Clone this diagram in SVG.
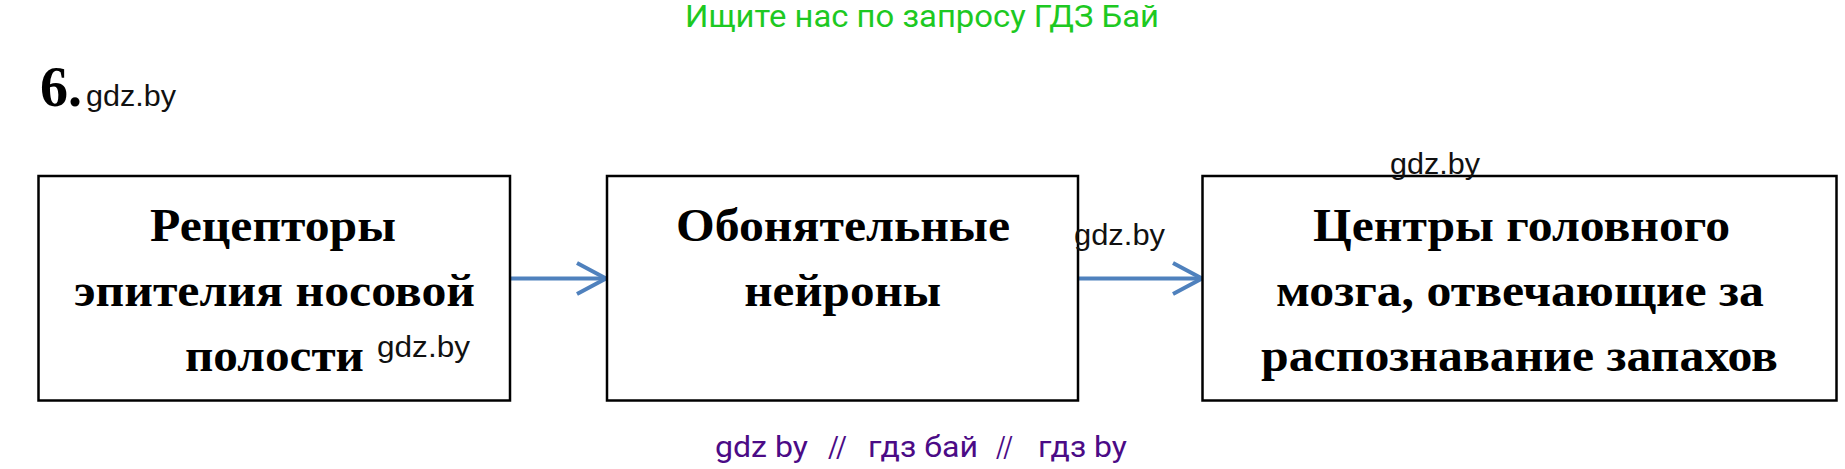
<svg xmlns="http://www.w3.org/2000/svg" width="1845" height="469" viewBox="0 0 1845 469">
<style>
.box{fill:#fff;stroke:#000;stroke-width:2.5}
.lbl{font-family:"Liberation Serif","Times New Roman",serif;font-weight:bold;font-size:46px;fill:#000;text-anchor:middle}
.wm{font-family:"Liberation Sans",Arial,sans-serif;font-size:30px;fill:#111}
.conn{fill:none;stroke:#4F81BD;stroke-width:4;stroke-linecap:butt;stroke-linejoin:miter}
.top{font-family:Roboto,"Liberation Sans",sans-serif;font-size:32px;fill:#1dc922}
.bot{font-family:Roboto,"Liberation Sans",sans-serif;font-size:30px;fill:#4b0b86}
</style>
<rect width="1845" height="469" fill="#fff"/>
<text class="top" x="685" y="27" textLength="474" lengthAdjust="spacingAndGlyphs">Ищите нас по запросу ГДЗ Бай</text>
<g id="title">
<text x="40" y="106" style="font-family:'Liberation Serif','Times New Roman',serif;font-weight:bold;font-size:56px;fill:#000">6.</text>
<text class="wm" x="86" y="106" textLength="90" lengthAdjust="spacingAndGlyphs">gdz.by</text>
</g>
<g id="connectors">
<path class="conn" d="M510,278.5 H605"/>
<path class="conn" d="M577,263 L606,278.5 L577,294"/>
<path class="conn" d="M1078,278.5 H1201"/>
<path class="conn" d="M1173,263 L1202,278.5 L1173,294"/>
</g>
<g id="node1">
<rect class="box" x="38.5" y="176" width="471.5" height="224.5"/>
<text class="lbl" x="273" y="241" textLength="246" lengthAdjust="spacingAndGlyphs">Рецепторы</text>
<text class="lbl" x="274.5" y="306" textLength="401" lengthAdjust="spacingAndGlyphs">эпителия носовой</text>
<text class="lbl" x="274.5" y="371" textLength="179" lengthAdjust="spacingAndGlyphs">полости</text>
<text class="wm" x="377" y="357" textLength="93" lengthAdjust="spacingAndGlyphs">gdz.by</text>
</g>
<g id="node2">
<rect class="box" x="607" y="176" width="471" height="224.5"/>
<text class="lbl" x="843" y="241" textLength="334" lengthAdjust="spacingAndGlyphs">Обонятельные</text>
<text class="lbl" x="842.7" y="306" textLength="197" lengthAdjust="spacingAndGlyphs">нейроны</text>
</g>
<text class="wm" x="1074" y="245" textLength="91" lengthAdjust="spacingAndGlyphs">gdz.by</text>
<g id="node3">
<rect class="box" x="1202.5" y="176" width="634" height="224.5"/>
<text class="lbl" x="1521.5" y="241" textLength="417" lengthAdjust="spacingAndGlyphs">Центры головного</text>
<text class="lbl" x="1520" y="306" textLength="488" lengthAdjust="spacingAndGlyphs">мозга, отвечающие за</text>
<text class="lbl" x="1519.5" y="371" textLength="517" lengthAdjust="spacingAndGlyphs">распознавание запахов</text>
</g>
<text class="wm" x="1390" y="174" textLength="90" lengthAdjust="spacingAndGlyphs">gdz.by</text>
<text class="bot" y="457"><tspan x="715" textLength="93" lengthAdjust="spacingAndGlyphs">gdz by</tspan><tspan x="828" textLength="19" lengthAdjust="spacingAndGlyphs">//</tspan><tspan x="868" textLength="110" lengthAdjust="spacingAndGlyphs">гдз бай</tspan><tspan x="996" textLength="17" lengthAdjust="spacingAndGlyphs">//</tspan><tspan x="1038" textLength="89" lengthAdjust="spacingAndGlyphs">гдз by</tspan></text>
</svg>
